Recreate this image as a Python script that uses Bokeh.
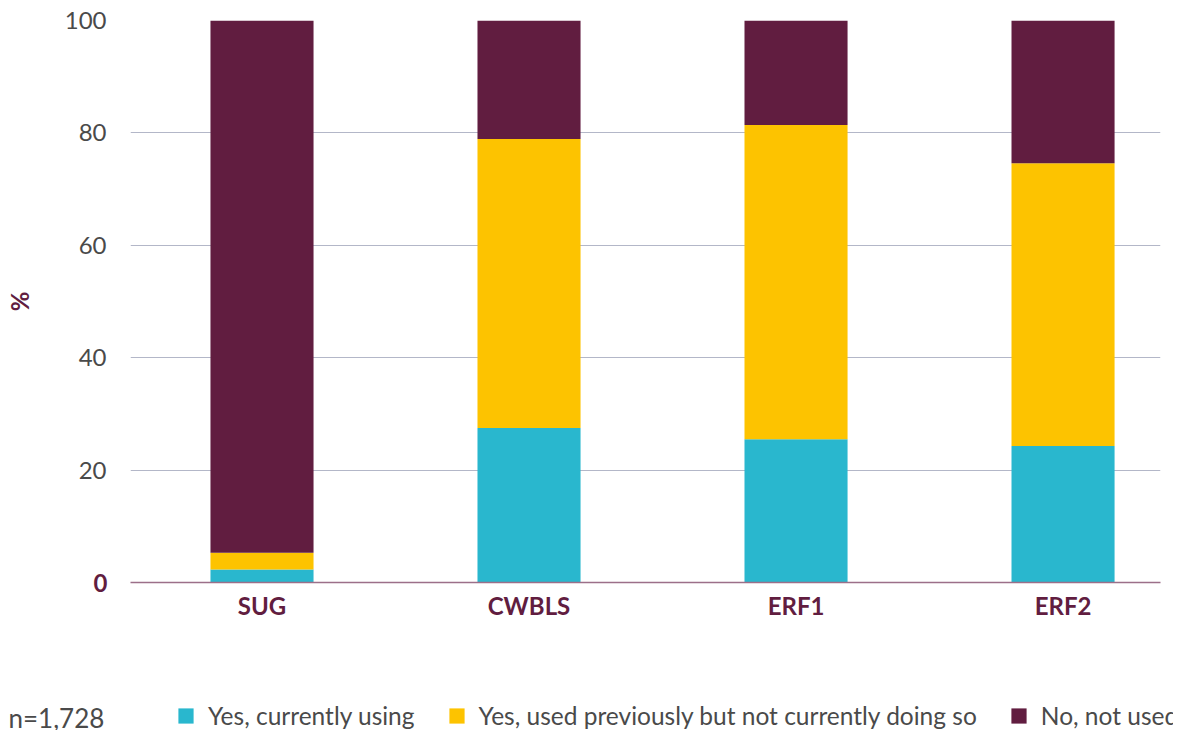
from bokeh.plotting import figure
from bokeh.layouts import column
from bokeh.models import Range1d, FixedTicker, Legend, LegendItem, Label, LinearAxis
from bokeh.embed import file_html
from bokeh.resources import INLINE

categories = ["SUG", "CWBLS", "ERF1", "ERF2"]
currently_using = [2.3, 27.5, 25.5, 24.3]
used_previously = [3.0, 51.4, 55.9, 50.3]
not_used = [94.7, 21.1, 18.6, 25.4]
series_names = ["Yes, currently using", "Yes, used previously but not currently doing so", "No, not used"]
colors = ["#29b7ce", "#fdc300", "#611d40"]
y_ticks = [20, 40, 60, 80, 100]
zero_tick = [0]
sample_note = "n=1,728"

FONT = "Lato"
MAROON = "#611d40"
GREY = "#4a4a4a"

xs = list(range(len(categories)))
b1 = [0.0] * len(xs)
t1 = [b + v for b, v in zip(b1, currently_using)]
t2 = [b + v for b, v in zip(t1, used_previously)]
t3 = [b + v for b, v in zip(t2, not_used)]

p = figure(width=1173, height=640, output_backend="svg", toolbar_location=None,
           x_range=Range1d(-0.4925, 3.365), y_range=Range1d(0, 100),
           min_border_left=130, min_border_right=13, min_border_top=20, min_border_bottom=58)
p.outline_line_color = None
p.frame_align = False

w = 0.386
r1 = p.vbar(x=xs, bottom=b1, top=t1, width=w, fill_color=colors[0], line_color=None)
r2 = p.vbar(x=xs, bottom=t1, top=t2, width=w, fill_color=colors[1], line_color=None)
r3 = p.vbar(x=xs, bottom=t2, top=t3, width=w, fill_color=colors[2], line_color=None)

# x axis
p.xaxis.ticker = FixedTicker(ticks=xs)
p.xaxis.major_label_overrides = {i: c for i, c in enumerate(categories)}
p.xaxis.major_tick_line_color = None
p.xaxis.minor_tick_line_color = None
p.xaxis.axis_line_color = "#9c6f89"
p.xaxis.axis_line_width = 1.5
p.xaxis.major_label_text_font = FONT
p.xaxis.major_label_text_font_style = "bold"
p.xaxis.major_label_text_font_size = "24px"
p.xaxis.major_label_text_color = MAROON
p.xaxis.major_label_standoff = 2

# inner y axis: 20..100
p.yaxis.ticker = FixedTicker(ticks=y_ticks)
p.yaxis.major_tick_line_color = None
p.yaxis.minor_tick_line_color = None
p.yaxis.axis_line_color = None
p.yaxis.major_label_text_font = FONT
p.yaxis.major_label_text_font_size = "24px"
p.yaxis.major_label_text_color = GREY
p.yaxis.major_label_standoff = 18

# outer y axis: bold "0" tick and "%" title
zaxis = LinearAxis(ticker=FixedTicker(ticks=zero_tick), axis_line_color=None,
                   major_tick_line_color=None, minor_tick_line_color=None,
                   major_label_text_font=FONT, major_label_text_font_style="bold",
                   major_label_text_font_size="24px", major_label_text_color=MAROON,
                   major_label_standoff=-52,
                   axis_label="%", axis_label_text_font=FONT, axis_label_text_font_style="bold",
                   axis_label_text_font_size="24px", axis_label_text_color=MAROON,
                   axis_label_standoff=57)
p.add_layout(zaxis, "left")

p.xgrid.grid_line_color = None
p.ygrid.ticker = FixedTicker(ticks=y_ticks)
p.ygrid.grid_line_color = "#b3b7c8"
p.ygrid.grid_line_width = 1.2

# legend strip
q = figure(width=1173, height=90, output_backend="svg", toolbar_location=None,
           x_range=Range1d(-10, -9), y_range=Range1d(-10, -9),
           min_border_left=0, min_border_right=0, min_border_top=0, min_border_bottom=0,
           x_axis_type=None, y_axis_type=None)
q.outline_line_color = None
q.frame_align = False
q.xgrid.visible = False
q.ygrid.visible = False
l1 = q.vbar(x=xs, bottom=b1, top=t1, width=w, fill_color=colors[0], line_color=None)
l2 = q.vbar(x=xs, bottom=t1, top=t2, width=w, fill_color=colors[1], line_color=None)
l3 = q.vbar(x=xs, bottom=t2, top=t3, width=w, fill_color=colors[2], line_color=None)

q.add_layout(Label(x=8, y=13, x_units="screen", y_units="screen", text=sample_note,
                   text_font=FONT, text_font_size="26px", text_color=GREY,
                   text_align="left", text_baseline="middle"))

legend = Legend(items=[LegendItem(label=series_names[0], renderers=[l1]),
                       LegendItem(label=series_names[1], renderers=[l2]),
                       LegendItem(label=series_names[2], renderers=[l3])],
                location=(176, 0), orientation="horizontal",
                glyph_width=19, glyph_height=19, label_height=19,
                label_standoff=13, spacing=32, padding=0, margin=0,
                label_text_font=FONT, label_text_font_size="24.5px",
                label_text_color=GREY, border_line_color=None,
                background_fill_alpha=0, inactive_fill_alpha=0)
q.add_layout(legend, "center")

layout = column(p, q, spacing=0)
open("out.html", "w").write(file_html(layout, INLINE))
